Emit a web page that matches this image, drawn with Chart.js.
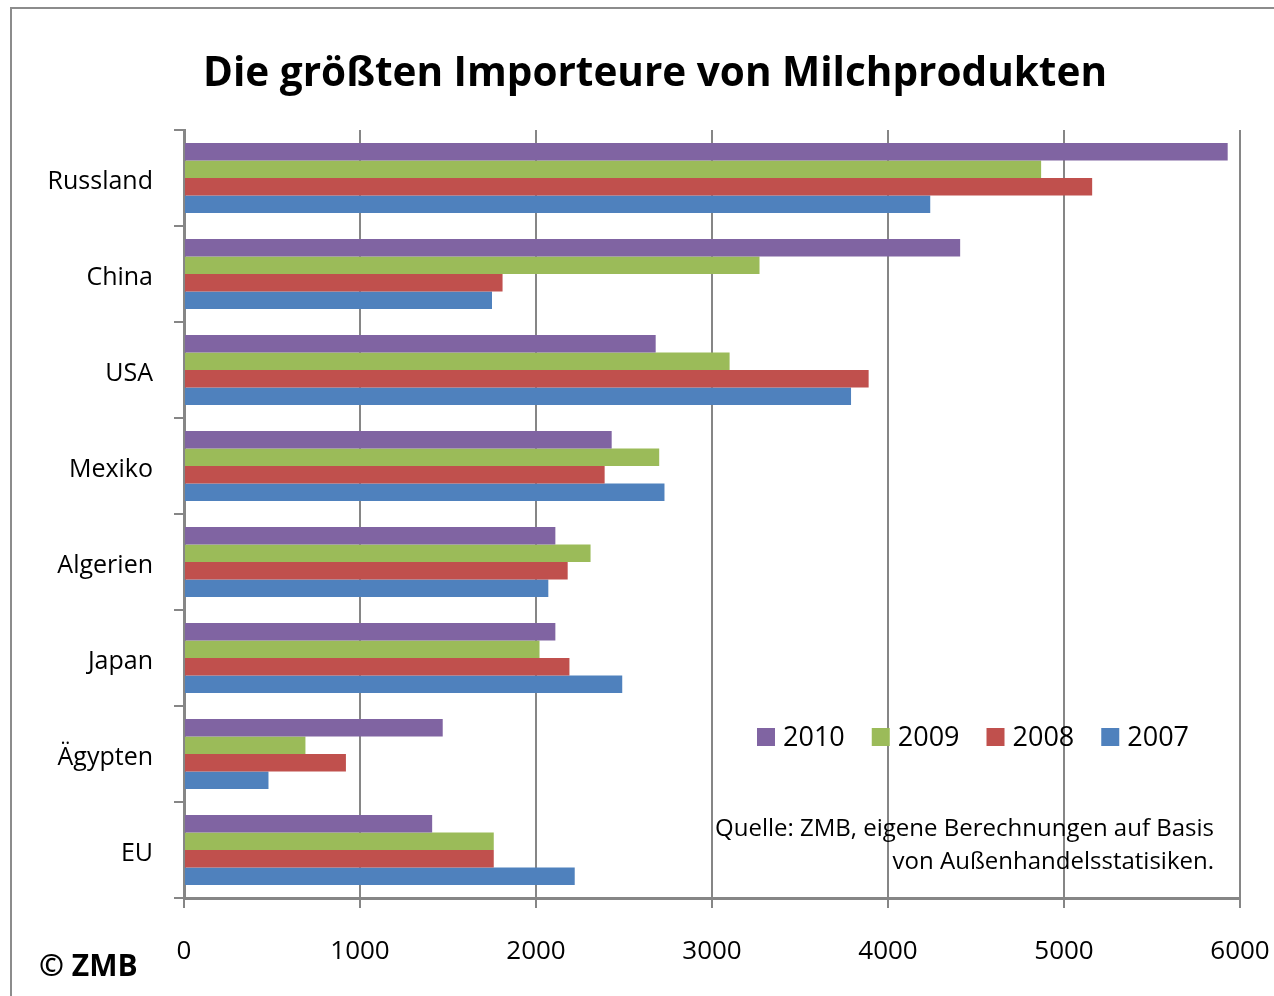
<!DOCTYPE html>
<html>
<head>
<meta charset="utf-8">
<script src="https://cdn.jsdelivr.net/npm/chart.js@4/dist/chart.umd.min.js"></script>
<style>
  html, body { margin: 0; padding: 0; background: #fff; }
  #wrap { width: 1274px; height: 996px; }
</style>
</head>
<body>
<div id="wrap"><canvas id="chart"></canvas></div>
<script>
const countries = ['Russland', 'China', 'USA', 'Mexiko', 'Algerien', 'Japan', 'Ägypten', 'EU'];
const y2010 = [5930, 4410, 2680, 2430, 2110, 2110, 1470, 1410];
const y2009 = [4870, 3270, 3100, 2700, 2310, 2020, 690, 1760];
const y2008 = [5160, 1810, 3890, 2390, 2180, 2190, 920, 1760];
const y2007 = [4240, 1750, 3790, 2730, 2070, 2490, 480, 2220];
const years = ['2010', '2009', '2008', '2007'];
const colors = ['#8064A2', '#9BBB59', '#C0504D', '#4F81BD'];
const title = 'Die größten Importeure von Milchprodukten';
const sourceLines = ['Quelle: ZMB, eigene Berechnungen auf Basis', 'von Außenhandelsstatisiken.'];
const copyright = '© ZMB';

const FONT = "'Open Sans', sans-serif";
const GRAY = '#868686';

function make(i, data) {
  return {
    label: years[i],
    data: data,
    backgroundColor: colors[i],
    borderWidth: 0,
    categoryPercentage: 0.73,
    barPercentage: 1
  };
}

// frame, legend inside the plot, source note and copyright
const extras = {
  id: 'extras',
  beforeDraw(chart) {
    const ctx = chart.ctx;
    ctx.save();
    ctx.strokeStyle = '#8c8c8c';
    ctx.lineWidth = 2;
    ctx.beginPath();
    ctx.moveTo(11, 996);
    ctx.lineTo(11, 8);
    ctx.lineTo(1274, 8);
    ctx.stroke();
    ctx.restore();
  },
  afterDraw(chart) {
    const ctx = chart.ctx;
    ctx.save();
    // legend
    ctx.font = '27px ' + FONT;
    ctx.textBaseline = 'middle';
    ctx.textAlign = 'left';
    let x = 757;
    const ly = 737;
    chart.data.datasets.forEach(ds => {
      ctx.fillStyle = ds.backgroundColor;
      ctx.fillRect(x, ly - 9, 18, 18);
      ctx.fillStyle = '#000';
      ctx.fillText(ds.label, x + 26, ly + 1);
      x += 26 + ctx.measureText(ds.label).width + 27;
    });
    // source
    ctx.font = '24px ' + FONT;
    ctx.textAlign = 'right';
    ctx.fillText(sourceLines[0], 1214, 829);
    ctx.fillText(sourceLines[1], 1214, 862);
    // copyright
    ctx.font = 'bold 30px ' + FONT;
    ctx.textAlign = 'left';
    ctx.fillText(copyright, 39, 967);
    ctx.restore();
  }
};

new Chart(document.getElementById('chart'), {
  type: 'bar',
  data: {
    labels: countries,
    datasets: [make(0, y2010), make(1, y2009), make(2, y2008), make(3, y2007)]
  },
  options: {
    indexAxis: 'y',
    responsive: true,
    maintainAspectRatio: false,
    animation: false,
    layout: { padding: { left: 36, right: 0, top: 0, bottom: 0 } },
    plugins: {
      legend: { display: false },
      tooltip: { enabled: false },
      title: {
        display: true,
        text: title,
        color: '#000',
        font: { family: FONT, size: 40.5, weight: 'bold' },
        padding: { top: 50, bottom: 31.4 }
      }
    },
    scales: {
      x: {
        min: 0,
        max: 6000,
        ticks: {
          stepSize: 1000, color: '#000', font: { family: FONT, size: 26 }, padding: 28, maxRotation: 0,
          callback: v => String(v)
        },
        grid: { color: GRAY, lineWidth: 2, tickLength: 10 },
        border: { display: true, color: GRAY, width: 3 },
        afterFit(scale) {
          scale.height = 98;
          scale.paddingLeft = 0;
          scale.paddingRight = 34;
        }
      },
      y: {
        ticks: { color: '#000', font: { family: FONT, size: 25 }, padding: 21, labelOffset: 4 },
        grid: { color: GRAY, lineWidth: 2, tickLength: 10, drawOnChartArea: false },
        border: { display: true, color: GRAY, width: 3 },
        afterFit(scale) { scale.width = 148; }
      }
    }
  },
  plugins: [extras]
});
</script>
</body>
</html>
